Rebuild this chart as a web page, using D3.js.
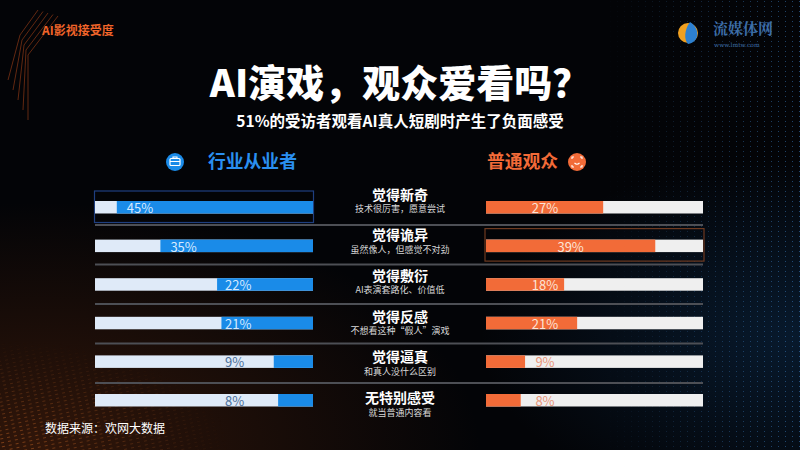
<!DOCTYPE html>
<html>
<head>
<meta charset="utf-8">
<script src="https://cdn.jsdelivr.net/npm/d3@7/dist/d3.min.js"></script>
<style>
  html, body { margin: 0; padding: 0; background: #030407; }
  svg { display: block; font-family: "Noto Sans CJK SC", "Noto Sans", sans-serif; }
</style>
</head>
<body>
<div id="chart"></div>
<script>
// chart data
const categories = ['觉得新奇', '觉得诡异', '觉得敷衍', '觉得反感', '觉得逼真', '无特别感受'];
const notes = ['技术很厉害，愿意尝试', '虽然像人，但感觉不对劲', 'AI表演套路化、价值低',
               '不想看这种“假人”演戏', '和真人没什么区别', '就当普通内容看'];
const industryValues = [45, 35, 22, 21, 9, 8];
const audienceValues = [27, 39, 18, 21, 9, 8];
const seriesNames = ['行业从业者', '普通观众'];

const width = 800;
const height = 450;
const blue = '#1a8be8';
const orange = '#f26b38';

const svg = d3.select('#chart')
  .append('svg')
  .attr('width', width)
  .attr('height', height);

const defs = svg.append('defs');

// background glows
const glowL = defs.append('radialGradient').attr('id', 'glowL')
  .attr('cx', 0.05).attr('cy', 1).attr('r', 0.55);
glowL.append('stop').attr('offset', 0).attr('stop-color', '#6a2c0c').attr('stop-opacity', 0.45);
glowL.append('stop').attr('offset', 1).attr('stop-color', '#6a2c0c').attr('stop-opacity', 0);

const glowR = defs.append('radialGradient').attr('id', 'glowR')
  .attr('cx', 1).attr('cy', 0.75).attr('r', 0.4);
glowR.append('stop').attr('offset', 0).attr('stop-color', '#0f3a66').attr('stop-opacity', 0.4);
glowR.append('stop').attr('offset', 1).attr('stop-color', '#0f3a66').attr('stop-opacity', 0);

const dotsR = defs.append('pattern').attr('id', 'dotsR')
  .attr('width', 7).attr('height', 5).attr('patternUnits', 'userSpaceOnUse');
dotsR.append('rect').attr('x', 1).attr('y', 1).attr('width', 1).attr('height', 1).attr('fill', '#3b7fc4');

const dotsL = defs.append('pattern').attr('id', 'dotsL')
  .attr('width', 7).attr('height', 4).attr('patternUnits', 'userSpaceOnUse')
  .attr('patternTransform', 'rotate(-12)');
dotsL.append('rect').attr('x', 0).attr('y', 1).attr('width', 3).attr('height', 0.8).attr('fill', '#d8702a');

const fadeR = defs.append('linearGradient').attr('id', 'fadeR').attr('x1', 0).attr('x2', 1);
fadeR.append('stop').attr('offset', 0).attr('stop-color', '#fff').attr('stop-opacity', 0);
fadeR.append('stop').attr('offset', 1).attr('stop-color', '#fff').attr('stop-opacity', 0.55);
defs.append('mask').attr('id', 'maskR')
  .append('rect').attr('x', 600).attr('y', 0).attr('width', 200).attr('height', 450).attr('fill', 'url(#fadeR)');

const fadeL = defs.append('radialGradient').attr('id', 'fadeL')
  .attr('cx', 0).attr('cy', 1).attr('r', 0.55);
fadeL.append('stop').attr('offset', 0).attr('stop-color', '#fff').attr('stop-opacity', 0.6);
fadeL.append('stop').attr('offset', 1).attr('stop-color', '#fff').attr('stop-opacity', 0);
defs.append('mask').attr('id', 'maskL')
  .append('rect').attr('x', 0).attr('y', 250).attr('width', 420).attr('height', 200).attr('fill', 'url(#fadeL)');

svg.append('rect').attr('width', width).attr('height', height).attr('fill', '#030407');
svg.append('rect').attr('width', width).attr('height', height).attr('fill', 'url(#glowL)');
svg.append('rect').attr('width', width).attr('height', height).attr('fill', 'url(#glowR)');
svg.append('rect').attr('x', 600).attr('width', 200).attr('height', height)
  .attr('fill', 'url(#dotsR)').attr('mask', 'url(#maskR)');
svg.append('rect').attr('y', 250).attr('width', 420).attr('height', 200)
  .attr('fill', 'url(#dotsL)').attr('mask', 'url(#maskL)');

// top-left circuit lines
const circuit = svg.append('g').attr('fill', 'none').attr('stroke', '#b0461a').attr('stroke-width', 1).attr('opacity', 0.55);
[0, 5, 10, 15, 20].forEach(o => {
  circuit.append('path').attr('d', `M${38 + o},${10 + o * 0.3} L${20 + o * 0.4},${35 + o} L${8 + o},${80 + o * 2}`);
});

// header texts
svg.append('text')
  .attr('x', 42).attr('y', 34.5)
  .attr('fill', '#f0642a').attr('font-size', 12).attr('font-weight', 700)
  .text('AI影视接受度');

svg.append('text')
  .attr('x', 400).attr('y', 97)
  .attr('text-anchor', 'middle')
  .attr('fill', '#ffffff').attr('font-size', 38).attr('font-weight', 900)
  .text('AI演戏，观众爱看吗？');

svg.append('text')
  .attr('x', 400).attr('y', 127)
  .attr('text-anchor', 'middle')
  .attr('fill', '#ffffff').attr('font-size', 15.5).attr('font-weight', 700)
  .text('51%的受访者观看AI真人短剧时产生了负面感受');

// logo
const logo = svg.append('g');
logo.append('circle').attr('cx', 688).attr('cy', 33).attr('r', 10).attr('fill', '#f0a020');
logo.append('path').attr('d', 'M690,22 C700,28 700,42 688,44 C684,40 684,30 690,22 Z').attr('fill', '#2d80d0');
logo.append('text').attr('x', 713).attr('y', 34).attr('fill', '#3d6ea8')
  .attr('font-family', '"Noto Serif CJK SC", "DejaVu Serif", serif').attr('font-size', 15).attr('font-weight', 700)
  .text('流媒体网');
logo.append('text').attr('x', 714).attr('y', 46.5).attr('fill', '#3d6ea8')
  .attr('font-family', '"DejaVu Serif", serif').attr('font-size', 6)
  .text('www.lmtw.com');

// series headers
svg.append('circle').attr('cx', 175).attr('cy', 162).attr('r', 9).attr('fill', blue);
svg.append('rect').attr('x', 170).attr('y', 158.5).attr('width', 10).attr('height', 7).attr('rx', 1)
  .attr('fill', 'none').attr('stroke', '#fff').attr('stroke-width', 1.2);
svg.append('path').attr('d', 'M173,158.5 V157 H177 V158.5 M170,161.5 H180').attr('fill', 'none')
  .attr('stroke', '#fff').attr('stroke-width', 1.1);
svg.append('text').attr('x', 208).attr('y', 168).attr('fill', '#2a8ff0')
  .attr('font-size', 17.8).attr('font-weight', 700).text(seriesNames[0]);

svg.append('text').attr('x', 487).attr('y', 168).attr('fill', orange)
  .attr('font-size', 17.8).attr('font-weight', 700).text(seriesNames[1]);
svg.append('circle').attr('cx', 577).attr('cy', 162).attr('r', 9).attr('fill', orange);
svg.append('path')
  .attr('d', 'M572,159 V157 H574 M580,157 H582 V159 M582,165 V167 H580 M574,167 H572 V165 M574.5,163 Q577,165.5 579.5,163')
  .attr('fill', 'none').attr('stroke', '#fff').attr('stroke-width', 1.1);

// scales
const xLeft = d3.scaleLinear().domain([0, 50]).range([0, 218]);
const xRight = d3.scaleLinear().domain([0, 50]).range([486, 703]);
const leftEnd = 313;
const barY = d3.scaleLinear().domain([0, 5]).range([201, 394]);
const labelY = d3.scaleLinear().domain([0, 5]).range([194, 397.5]);
const sepY = d3.scaleLinear().domain([0, 4]).range([225, 383]);
const barH = 12.5;

// separators
svg.append('g').selectAll('line')
  .data(d3.range(categories.length - 1))
  .join('line')
  .attr('x1', 95).attr('x2', 703)
  .attr('y1', d => sepY(d)).attr('y2', d => sepY(d))
  .attr('stroke', '#4d4f55').attr('stroke-width', 2);

// highlight boxes (max values)
const leftMax = industryValues.indexOf(d3.max(industryValues));
const rightMax = audienceValues.indexOf(d3.max(audienceValues));
svg.append('rect')
  .attr('x', leftEnd - xLeft(50) - 0.5).attr('y', barY(leftMax) - 10)
  .attr('width', xLeft(50) + 1).attr('height', barH + 19)
  .attr('fill', 'none').attr('stroke', '#1f3f80').attr('stroke-width', 1.2);
svg.append('rect')
  .attr('x', xRight(0) - 1).attr('y', barY(rightMax) - 11)
  .attr('width', xRight(50) - xRight(0) + 2).attr('height', barH + 20)
  .attr('fill', 'none').attr('stroke', '#6e3a20').attr('stroke-width', 1.2);

// left bars (industry), filled from the right
const leftStart = d => leftEnd - xLeft(d);
const leftLabelX = d => Math.min(leftStart(d) + 10, 225);
const left = svg.append('g');
left.selectAll('.bg')
  .data(industryValues)
  .join('rect')
  .attr('class', 'bg')
  .attr('x', leftEnd - xLeft(50)).attr('y', (d, i) => barY(i))
  .attr('width', xLeft(50)).attr('height', barH)
  .attr('fill', '#dfeaf8');
left.selectAll('.fg')
  .data(industryValues)
  .join('rect')
  .attr('class', 'fg')
  .attr('x', leftStart).attr('y', (d, i) => barY(i))
  .attr('width', d => xLeft(d)).attr('height', barH)
  .attr('fill', blue);
left.selectAll('.val')
  .data(industryValues)
  .join('text')
  .attr('class', 'val')
  .attr('x', leftLabelX)
  .attr('y', (d, i) => barY(i) + barH - 0.5)
  .attr('font-size', 13)
  .attr('fill', d => (leftLabelX(d) >= leftStart(d) ? '#d6eaff' : '#4d6f98'))
  .text(d => d + '%');

// right bars (audience), filled from the left
const right = svg.append('g');
right.selectAll('.bg')
  .data(audienceValues)
  .join('rect')
  .attr('class', 'bg')
  .attr('x', xRight(0)).attr('y', (d, i) => barY(i))
  .attr('width', xRight(50) - xRight(0)).attr('height', barH)
  .attr('fill', '#efefef');
right.selectAll('.fg')
  .data(audienceValues)
  .join('rect')
  .attr('class', 'fg')
  .attr('x', xRight(0)).attr('y', (d, i) => barY(i))
  .attr('width', d => xRight(d) - xRight(0)).attr('height', barH)
  .attr('fill', orange);
right.selectAll('.val')
  .data(audienceValues)
  .join('text')
  .attr('class', 'val')
  .attr('x', d => Math.max((xRight(0) + xRight(d)) / 2, 545))
  .attr('y', (d, i) => barY(i) + barH - 0.5)
  .attr('text-anchor', 'middle')
  .attr('font-size', 13)
  .attr('fill', d => (xRight(d) > 560 ? '#fde3d6' : '#e8967a'))
  .text(d => d + '%');

// category labels
const cats = svg.append('g');
cats.selectAll('.cat')
  .data(categories)
  .join('text')
  .attr('class', 'cat')
  .attr('x', 400).attr('y', (d, i) => labelY(i) + 5.5)
  .attr('text-anchor', 'middle')
  .attr('fill', '#ffffff').attr('font-size', 14).attr('font-weight', 700)
  .text(d => d);
cats.selectAll('.note')
  .data(notes)
  .join('text')
  .attr('class', 'note')
  .attr('x', 400).attr('y', (d, i) => labelY(i) + 18)
  .attr('text-anchor', 'middle')
  .attr('fill', '#d8d8d8').attr('font-size', 9)
  .text(d => d);

// source
svg.append('text')
  .attr('x', 45).attr('y', 433)
  .attr('fill', '#ffffff').attr('font-size', 12)
  .text('数据来源：欢网大数据');
</script>
</body>
</html>
